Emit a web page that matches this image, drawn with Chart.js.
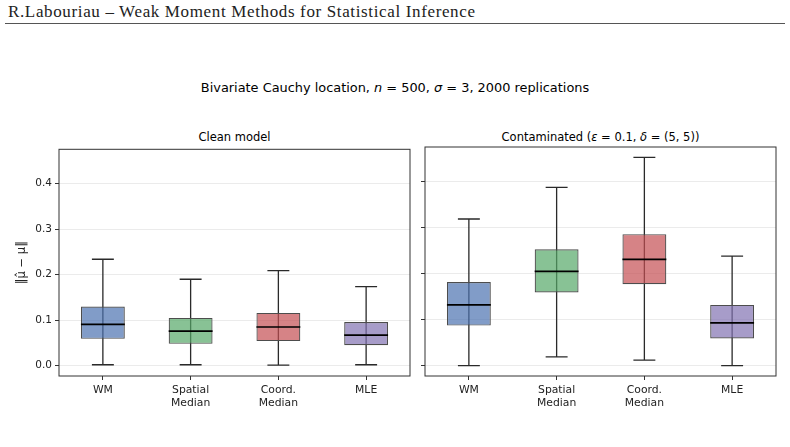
<!DOCTYPE html>
<html>
<head>
<meta charset="utf-8">
<script src="https://cdn.jsdelivr.net/npm/chart.js@4.4.0/dist/chart.umd.min.js"></script>
<style>
  body { margin: 0; width: 790px; height: 447px; background: #fff; position: relative; overflow: hidden; font-family: "DejaVu Sans", sans-serif; }
  #header { position: absolute; left: 8px; top: 2px; font-family: "Liberation Serif", serif; font-size: 17px; color: #222; white-space: nowrap; }
  #rule { position: absolute; left: 5px; top: 23px; width: 780px; border-top: 1.5px solid #555; }
  #suptitle { position: absolute; left: 0; width: 790px; top: 80px; text-align: center; font-size: 12.9px; color: #000; }
  .sub { position: absolute; top: 130px; font-size: 11.5px; color: #000; text-align: center; white-space: nowrap; }
  canvas { position: absolute; }
</style>
</head>
<body>
<div id="header">R.Labouriau – Weak Moment Methods for Statistical Inference</div>
<div id="rule"></div>
<div id="suptitle">Bivariate Cauchy location, <i>n</i> = 500, <i>σ</i> = 3, 2000 replications</div>
<div class="sub" style="left:59px;width:351px">Clean model</div>
<div class="sub" style="left:425px;width:351px">Contaminated (<i>ε</i> = 0.1, <i>δ</i> = (5, 5))</div>
<canvas id="cleanChart" width="420" height="280" style="left:0;top:140px"></canvas>
<canvas id="contChart" width="375" height="280" style="left:415px;top:140px"></canvas>
<script>
const methods = [["WM"], ["Spatial", "Median"], ["Coord.", "Median"], ["MLE"]];
const yTicks = [0.0, 0.1, 0.2, 0.3, 0.4];

// clean model: whisker low, Q1, median, Q3, whisker high
const cleanLo  = [0.002, 0.002, 0.001, 0.002];
const cleanQ1  = [0.059, 0.048, 0.054, 0.045];
const cleanMed = [0.091, 0.076, 0.085, 0.067];
const cleanQ3  = [0.130, 0.105, 0.116, 0.096];
const cleanHi  = [0.234, 0.190, 0.209, 0.174];

// contaminated
const contLo  = [0.000, 0.019, 0.012, 0.000];
const contQ1  = [0.087, 0.159, 0.177, 0.059];
const contMed = [0.132, 0.205, 0.231, 0.093];
const contQ3  = [0.182, 0.253, 0.286, 0.132];
const contHi  = [0.319, 0.388, 0.453, 0.238];

const boxColors = ["rgba(76,114,176,0.7)", "rgba(85,168,104,0.7)", "rgba(196,78,82,0.7)", "rgba(129,114,178,0.7)"];
const font = "'DejaVu Sans', sans-serif";

// fit header text to the reference width
const hdr = document.getElementById("header");
const hw = hdr.getBoundingClientRect().width;
hdr.style.letterSpacing = ((467 - hw) / (hdr.textContent.length - 1)) + "px";

// whiskers, caps and medians drawn off the chart scales
const boxPlot = {
  id: "boxPlot",
  beforeDatasetsDraw(chart) {
    const { ctx, scales: { x, y } } = chart;
    const o = chart.options.plugins.boxPlot;
    ctx.save();
    ctx.strokeStyle = "#2a2a2a";
    ctx.lineWidth = 1.3;
    o.lo.forEach((lo, i) => {
      const cx = x.getPixelForValue(i);
      const half = x.width / methods.length / 8;
      const yl = y.getPixelForValue(lo), yh = y.getPixelForValue(o.hi[i]);
      ctx.beginPath();
      ctx.moveTo(cx, yl); ctx.lineTo(cx, yh);
      ctx.moveTo(cx - half, yl); ctx.lineTo(cx + half, yl);
      ctx.moveTo(cx - half, yh); ctx.lineTo(cx + half, yh);
      ctx.stroke();
    });
    ctx.restore();
  },
  afterDatasetsDraw(chart) {
    const { ctx, scales: { x, y } } = chart;
    const o = chart.options.plugins.boxPlot;
    ctx.save();
    ctx.strokeStyle = "#000";
    ctx.lineWidth = 1.7;
    o.med.forEach((m, i) => {
      const cx = x.getPixelForValue(i);
      const half = x.width / methods.length / 4;
      const ym = y.getPixelForValue(m);
      ctx.beginPath();
      ctx.moveTo(cx - half, ym); ctx.lineTo(cx + half, ym);
      ctx.stroke();
    });
    ctx.restore();
  },
  afterDraw(chart) {
    const { ctx, chartArea: a } = chart;
    ctx.save();
    ctx.strokeStyle = "#333";
    ctx.lineWidth = 1;
    ctx.strokeRect(a.left, a.top, a.right - a.left, a.bottom - a.top);
    ctx.restore();
  }
};

function makeChart(id, lo, q1, med, q3, hi, showY, yWidth, padRight) {
  return new Chart(document.getElementById(id), {
    type: "bar",
    data: {
      labels: methods,
      datasets: [{
        data: q1.map((v, i) => [v, q3[i]]),
        backgroundColor: boxColors,
        borderColor: "#4d4d4d",
        borderWidth: 1.2,
        borderSkipped: false,
        barPercentage: 0.5,
        categoryPercentage: 1
      }]
    },
    options: {
      responsive: false,
      animation: false,
      devicePixelRatio: 1,
      layout: { padding: { left: 0, right: padRight, top: 7, bottom: 0 } },
      plugins: {
        legend: { display: false },
        tooltip: { enabled: false },
        boxPlot: { lo, med, hi }
      },
      scales: {
        x: {
          type: "category",
          offset: true,
          border: { display: false },
          grid: { drawOnChartArea: false, offset: false, tickColor: "#333", tickLength: 4 },
          ticks: { color: "#222", font: { size: 10.8, family: font }, padding: 4, maxRotation: 0 },
          afterFit: s => { s.height = 44; }
        },
        y: {
          min: -0.0227,
          max: 0.4757,
          border: { display: false },
          afterBuildTicks: s => { s.ticks = yTicks.map(v => ({ value: v })); },
          grid: { color: "rgba(0,0,0,0.08)", tickColor: "#333", tickLength: 4 },
          ticks: { display: showY, color: "#222", font: { size: 10.5, family: font }, padding: 3, callback: v => v.toFixed(1) },
          title: {
            display: showY,
            text: "‖μ̂ − μ‖",
            color: "#222",
            font: { size: 11.5, family: font },
            padding: { top: 15, bottom: 0 }
          },
          afterFit: s => { s.width = yWidth; }
        }
      }
    },
    plugins: [boxPlot]
  });
}

makeChart("cleanChart", cleanLo, cleanQ1, cleanMed, cleanQ3, cleanHi, true, 59, 10);
makeChart("contChart", contLo, contQ1, contMed, contQ3, contHi, false, 10, 14);
</script>
</body>
</html>
